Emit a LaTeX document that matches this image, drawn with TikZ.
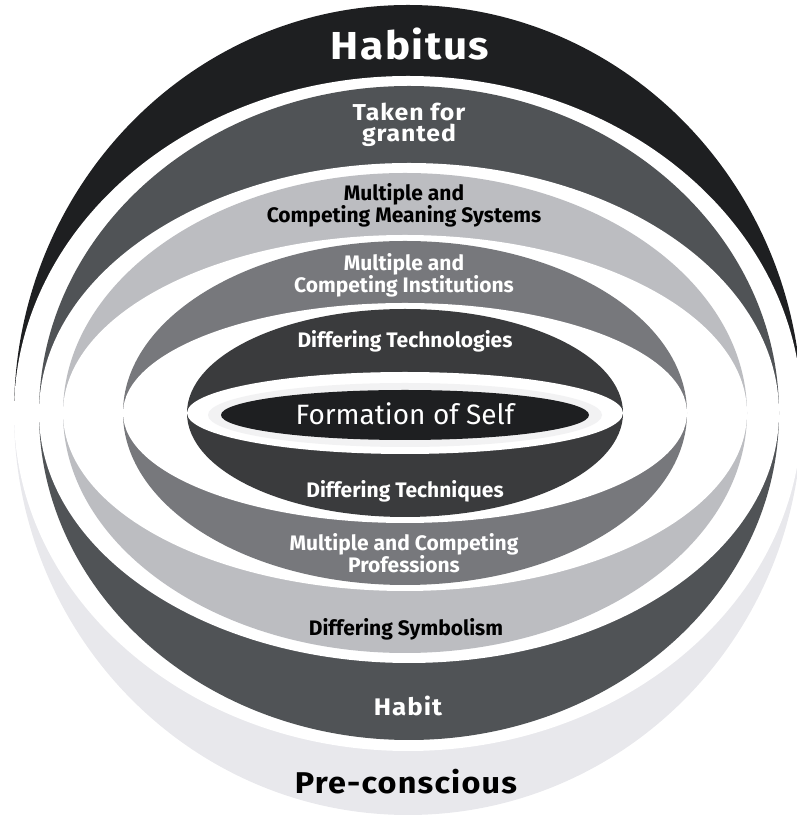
\documentclass[tikz,border=0pt]{standalone}
\usepackage{fontspec}
\setmainfont{Fira Sans}
\newfontfamily\widefont{Fira Sans}[FakeStretch=1.08, LetterSpace=4]
\usepackage{tikz}
\usetikzlibrary{positioning}

\definecolor{habitus}{HTML}{1E1F21}
\definecolor{preconscious}{HTML}{E8E8EC}
\definecolor{takenfor}{HTML}{505356}
\definecolor{meaning}{HTML}{BCBDC1}
\definecolor{institution}{HTML}{77787C}
\definecolor{technology}{HTML}{3A3B3D}
\definecolor{selfhalo}{HTML}{F2F2F3}

\begin{document}
\begin{tikzpicture}[x=1pt, y=1pt]
	\tikzstyle{ringtext}=[align=center, font=\bfseries\fontsize{21}{22}\selectfont, inner sep=0pt, text=white]
	\tikzstyle{bigtext}=[align=center, font=\widefont\bfseries\fontsize{23}{21}\selectfont, inner sep=0pt, text=white]
	
	\useasboundingbox (0,0) rectangle (797,816);
	
	% outer shell: habitus on top, pre-conscious below
	\fill[preconscious] (14,403) arc[start angle=180, end angle=360, x radius=394, y radius=402] -- cycle;
	\fill[habitus] (14,403) arc[start angle=180, end angle=0, x radius=394, y radius=408] -- cycle;
	\fill[white] (14,403) arc[start angle=180, end angle=0, x radius=394, y radius=337] arc[start angle=0, end angle=-180, x radius=394, y radius=338] -- cycle;
	
	% the inner shells
	\fill[takenfor] (409,403) ellipse[x radius=370, y radius=327];
	\fill[white] (409,403) ellipse[x radius=370, y radius=250];
	\fill[meaning] (405,403) ellipse[x radius=342, y radius=240];
	\fill[white] (405,403) ellipse[x radius=342, y radius=178];
	\fill[institution] (405,403) ellipse[x radius=282, y radius=172];
	\fill[white] (405,403) ellipse[x radius=282, y radius=110];
	\fill[technology] (405,403) ellipse[x radius=218, y radius=104];
	\fill[white] (405,403) ellipse[x radius=218, y radius=41];
	
	% core
	\fill[selfhalo] (405,401) ellipse[x radius=197, y radius=32];
	\fill[habitus] (405,401) ellipse[x radius=184, y radius=25];
	
	\node (habitus) at (410,772) [bigtext, font=\widefont\bfseries\fontsize{39}{40}\selectfont] {Habitus};
	\node (taken) at (409,691) [bigtext] {Taken for\\granted};
	\node (meaning) at (404,611) [ringtext, text=black] {Multiple and\\Competing Meaning Systems};
	\node (institutions) at (404,541) [ringtext] {Multiple and\\Competing Institutions};
	\node (technologies) at (405,475) [ringtext] {Differing Technologies};
	\node (self) at (405,402) [ringtext, font=\fontsize{28}{30}\selectfont] {Formation of Self};
	\node (techniques) at (405,325) [ringtext] {Differing Techniques};
	\node (professions) at (404,263) [ringtext] {Multiple and Competing\\Professions};
	\node (symbolism) at (406,187) [ringtext, text=black] {Differing Symbolism};
	\node (habit) at (408,110) [bigtext, font=\widefont\bfseries\fontsize{24}{26}\selectfont] {Habit};
	\node (preconscious) at (406,34) [bigtext, text=black, font=\widefont\bfseries\fontsize{30}{32}\selectfont] {Pre-conscious};
\end{tikzpicture}
\end{document}
